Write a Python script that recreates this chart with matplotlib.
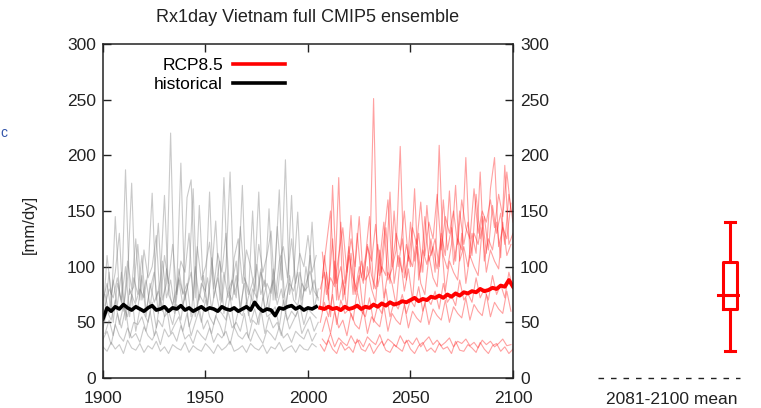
import numpy as np
import matplotlib
matplotlib.use("Agg")
import matplotlib.pyplot as plt

plt.rcParams['font.family'] = ['Liberation Sans', 'DejaVu Sans']

# ---------------- data ----------------
title = "Rx1day Vietnam full CMIP5 ensemble"
ylabel = "[mm/dy]"
box_label = "2081-2100 mean"

hist_even_years = list(range(1900, 2005, 2))   # 53 years
hist_odd_years = list(range(1901, 2006, 2))    # 53 years
rcp_even_years = list(range(2006, 2101, 2))    # 48 years
rcp_odd_years = list(range(2007, 2100, 2))     # 47 years

# historical members (grey)
H1 = [70, 85, 60, 145, 75, 62, 90, 175, 68, 80, 72, 95, 166, 70, 88, 164, 75, 66, 82, 193, 70, 92, 170, 64, 85, 78, 167, 72, 90, 68, 100, 185, 75, 88, 173, 66, 80, 92, 167, 70, 85, 76, 98, 169, 72, 86, 164, 70, 95, 78, 82, 140, 74]
H2 = [65, 80, 72, 90, 68, 187, 75, 82, 120, 70, 88, 64, 92, 139, 70, 85, 220, 68, 90, 76, 162, 178, 72, 155, 80, 66, 95, 141, 70, 180, 78, 88, 72, 136, 90, 75, 150, 68, 95, 82, 152, 70, 136, 88, 196, 75, 92, 149, 70, 85, 96, 78, 72]
H3 = [55, 110, 75, 95, 130, 60, 105, 80, 125, 70, 115, 90, 100, 128, 65, 110, 85, 120, 75, 105, 95, 130, 70, 118, 88, 100, 122, 80, 112, 95, 130, 70, 108, 125, 85, 115, 100, 78, 120, 95, 110, 132, 70, 105, 118, 90, 125, 85, 112, 100, 128, 95, 110]
H4 = [60, 95, 50, 85, 70, 100, 55, 90, 75, 110, 60, 80, 95, 58, 105, 72, 88, 62, 98, 75, 85, 55, 100, 70, 92, 65, 108, 78, 60, 95, 72, 85, 105, 58, 90, 80, 68, 102, 75, 88, 60, 98, 72, 110, 65, 85, 78, 95, 62, 100, 75, 88, 70]
H5 = [45, 60, 52, 70, 48, 65, 55, 75, 42, 62, 58, 50, 68, 45, 72, 55, 60, 48, 66, 52, 78, 46, 58, 64, 50, 70, 55, 48, 62, 58, 52, 74, 45, 60, 56, 68, 50, 62, 48, 72, 55, 58, 64, 46, 70, 52, 60, 55, 66, 48, 62, 58, 54]
H6 = [40, 52, 38, 58, 45, 62, 36, 50, 48, 55, 42, 60, 38, 52, 46, 64, 40, 48, 55, 42, 58, 38, 50, 62, 44, 52, 40, 56, 48, 38, 60, 45, 50, 42, 58, 36, 52, 48, 62, 40, 55, 45, 50, 38, 58, 44, 52, 60, 40, 48, 55, 42, 50]
H7 = [28, 24, 32, 26, 30, 22, 34, 27, 25, 31, 23, 29, 26, 33, 24, 28, 22, 30, 27, 25, 32, 23, 29, 26, 24, 31, 27, 22, 30, 25, 28, 33, 24, 26, 29, 23, 31, 27, 25, 30, 22, 28, 26, 32, 24, 27, 29, 23, 30, 26, 25, 31, 28]
H8 = [75, 58, 88, 65, 95, 52, 80, 70, 62, 92, 55, 85, 68, 78, 60, 98, 72, 58, 88, 65, 80, 95, 55, 75, 68, 90, 62, 82, 105, 58, 78, 70, 92, 64, 85, 56, 80, 72, 98, 60, 75, 88, 66, 80, 58, 92, 70, 65, 85, 78, 110, 62, 80]
H9 = [35, 42, 30, 48, 38, 33, 45, 36, 40, 32, 46, 38, 34, 42, 30, 44, 37, 41, 33, 47, 35, 39, 31, 43, 38, 34, 45, 32, 40, 36, 42, 30, 46, 38, 35, 41, 33, 44, 37, 31, 43, 39, 34, 46, 36, 40, 32, 42, 38, 35, 44, 33, 40]
hist_members_even = [H1, H3, H5, H7, H9]
hist_members_odd = [H2, H4, H6, H8]
hist_mean = [53, 63, 60, 64, 62, 66, 63, 61, 64, 62, 60, 63, 65, 61, 62, 64, 60, 63, 62, 65, 61, 63, 60, 62, 64, 61, 63, 62, 60, 64, 62, 61, 63, 60, 62, 64, 61, 68, 63, 60, 62, 61, 56, 63, 62, 64, 65, 62, 64, 61, 63, 62, 64]

# RCP8.5 members (red)
R1 = [80, 95, 70, 173, 85, 100, 75, 110, 90, 78, 105, 88, 95, 251, 82, 100, 92, 167, 85, 110, 95, 120, 100, 170, 88, 115, 102, 125, 95, 209, 110, 98, 120, 173, 105, 118, 100, 130, 112, 185, 105, 125, 115, 140, 108, 191, 120, 130]
R2 = [113, 75, 90, 82, 180, 70, 95, 146, 78, 100, 85, 120, 92, 80, 105, 140, 88, 98, 115, 208, 90, 110, 100, 125, 95, 145, 105, 118, 98, 130, 110, 168, 102, 125, 115, 198, 108, 130, 120, 145, 112, 170, 198, 118, 135, 125, 157]
R3 = [65, 110, 80, 125, 70, 140, 85, 118, 75, 130, 90, 108, 145, 80, 120, 95, 135, 85, 150, 100, 125, 88, 140, 105, 130, 95, 155, 110, 125, 100, 160, 115, 135, 105, 150, 120, 140, 110, 165, 125, 145, 115, 155, 130, 148, 120, 165, 140]
R4 = [60, 95, 55, 105, 70, 88, 62, 112, 75, 92, 58, 100, 80, 68, 115, 72, 95, 85, 65, 108, 78, 98, 70, 118, 85, 75, 110, 90, 82, 125, 78, 105, 95, 88, 130, 85, 110, 100, 92, 135, 95, 115, 105, 98, 140, 110, 120]
R5 = [50, 68, 55, 75, 48, 70, 58, 62, 52, 78, 60, 55, 72, 50, 65, 58, 80, 55, 68, 62, 75, 58, 70, 64, 82, 60, 72, 66, 78, 62, 85, 68, 74, 65, 88, 70, 76, 68, 90, 72, 80, 70, 92, 75, 84, 72, 95, 80]
R6 = [42, 55, 40, 60, 45, 52, 38, 58, 48, 44, 62, 40, 55, 50, 46, 65, 42, 58, 52, 48, 66, 45, 60, 54, 50, 68, 48, 62, 56, 52, 70, 50, 64, 58, 54, 72, 52, 66, 60, 56, 75, 55, 68, 62, 58, 78, 60]
R7 = [30, 24, 34, 26, 22, 32, 25, 28, 23, 35, 26, 24, 31, 22, 28, 33, 25, 23, 30, 27, 24, 34, 26, 22, 29, 32, 24, 27, 23, 31, 26, 28, 22, 33, 25, 24, 30, 27, 23, 32, 26, 22, 29, 31, 24, 28, 22, 26]
R8 = [35, 30, 40, 28, 36, 32, 29, 38, 31, 34, 28, 37, 33, 30, 39, 29, 35, 32, 28, 38, 31, 34, 30, 36, 28, 33, 37, 30, 34, 29, 32, 36, 28, 33, 31, 35, 29, 32, 27, 34, 30, 33, 28, 31, 35, 29, 30]
R9 = [90, 120, 150, 85, 110, 135, 95, 125, 100, 145, 88, 118, 105, 138, 92, 125, 160, 100, 130, 115, 150, 105, 135, 120, 158, 110, 140, 125, 165, 115, 145, 130, 150, 120, 160, 135, 125, 170, 130, 150, 140, 160, 135, 165, 145, 185, 150]
rcp_members_even = [R1, R3, R5, R7]
rcp_members_odd = [R2, R4, R6, R8, R9]
rcp_mean = [63, 62, 64, 62, 63, 61, 64, 62, 63, 65, 62, 64, 63, 66, 64, 67, 65, 68, 66, 67, 69, 68, 70, 72, 69, 71, 70, 73, 72, 74, 72, 75, 73, 76, 74, 77, 76, 78, 77, 80, 78, 79, 81, 80, 83, 82, 88, 82]

# 2081-2100 mean box statistics (RCP8.5)
box_whislo, box_q1, box_med, box_q3, box_whishi = 24, 62, 75, 104, 140

# ---------------- figure ----------------
fig = plt.figure(figsize=(7.61, 4.08), dpi=100)
ax = fig.add_axes([0.1353, 0.0735, 0.5388, 0.8187])

grey = '#7a7a7a'
for m in hist_members_even:
    ax.plot(hist_even_years, m, color=grey, lw=0.8, alpha=0.4)
for m in hist_members_odd:
    ax.plot(hist_odd_years, m, color=grey, lw=0.8, alpha=0.4)
for m in rcp_members_even:
    ax.plot(rcp_even_years, m, color='#ff2020', lw=0.8, alpha=0.42)
for m in rcp_members_odd:
    ax.plot(rcp_odd_years, m, color='#ff2020', lw=0.8, alpha=0.42)

ax.plot(hist_even_years, hist_mean, color='black', lw=2.6)
ax.plot(rcp_even_years, rcp_mean, color='#ff0000', lw=2.8)

# legend (gnuplot style: label then line)
lr, = ax.plot([], [], color='#ff0000', lw=2.6, label='RCP8.5')
lh, = ax.plot([], [], color='black', lw=2.6, label='historical')
leg = ax.legend(handles=[lr, lh], loc='upper left', bbox_to_anchor=(0.095, 0.995),
                markerfirst=False, frameon=False, fontsize=12.5,
                handlelength=3.0, handletextpad=0.6, labelspacing=0.2,
                borderpad=0.2)

ax.set_xlim(1900, 2100)
ax.set_ylim(0, 300)
ax.set_xticks([1900, 1950, 2000, 2050, 2100])
ax.set_yticks([0, 50, 100, 150, 200, 250, 300])
ax.tick_params(direction='in', length=6, width=1.0, labelsize=12.5,
               top=True, right=True, labelright=True, colors='#222222',
               pad=5)
ax.tick_params(axis='x', pad=9)
for s in ax.spines.values():
    s.set_linewidth(1.1)
    s.set_color('#222222')
ax.set_title(title, fontsize=13, pad=16, color='#222222')
ax.set_ylabel(ylabel, fontsize=12, color='#222222')
ax.yaxis.set_label_coords(-0.16, 0.46)

# box plot panel
ax2 = fig.add_axes([0.7858, 0.0735, 0.1866, 0.8187])
ax2.set_xlim(0, 1)
ax2.set_ylim(0, 300)
pos = 0.93
stats = [dict(whislo=box_whislo, q1=box_q1, med=box_med, q3=box_q3,
              whishi=box_whishi, label='')]
red = '#ff0000'
ax2.bxp(stats, positions=[pos], widths=0.1, capwidths=0.075, showfliers=False,
        boxprops=dict(color=red, lw=2.2),
        whiskerprops=dict(color=red, lw=2.2),
        capprops=dict(color=red, lw=2.2),
        medianprops=dict(color=red, lw=2.2))
ax2.plot([pos - 0.085, pos + 0.085], [box_med, box_med], color=red, lw=2.2)
ax2.set_xlim(0, 1)
for s in ax2.spines.values():
    s.set_visible(False)
ax2.axhline(0, color='#222222', lw=1.0, ls=(0, (4, 5)), clip_on=False)
ax2.set_yticks([])
ax2.set_xticks([0.52])
ax2.set_xticklabels([box_label], fontsize=12.5, color='#222222')
ax2.tick_params(axis='x', length=0, pad=10)

fig.text(0.001, 0.675, 'c', color='#3355aa', fontsize=10, ha='left', va='center')

fig.savefig('out.png', dpi=100)
